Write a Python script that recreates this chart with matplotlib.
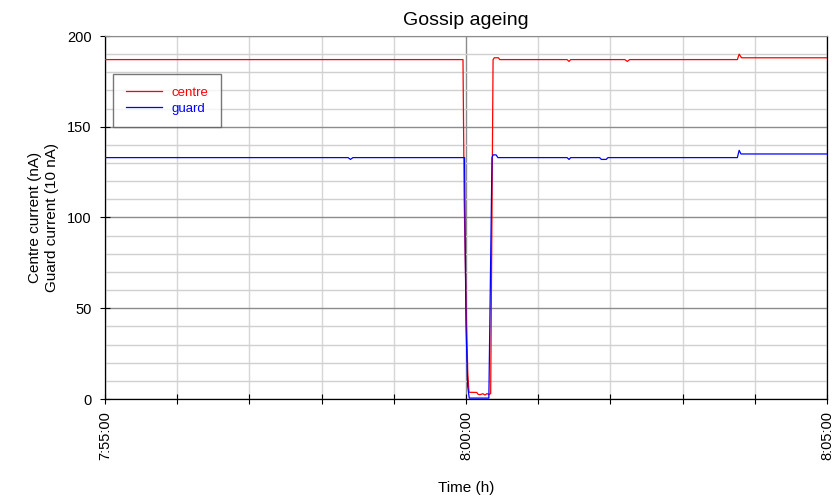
import matplotlib

matplotlib.use("Agg")

import matplotlib.pyplot as plt
from matplotlib.ticker import FixedLocator, MultipleLocator, FuncFormatter

# time in seconds after 7:55:00
centre_t = [0, 297.5, 298.5, 300, 301.5, 302.5, 309, 310, 311.6, 314, 315.8, 317.5,
            319, 320.5, 322.5, 323.5, 327, 328, 384, 385.6, 387, 432, 434, 436,
            525.5, 527, 529, 600]
centre_i = [187, 187, 110, 54, 14, 3.7, 3.6, 2.6, 2.4, 2.9, 2.2, 3.0,
            2.4, 3, 187, 188, 188, 187, 187, 186, 187, 187, 186, 187,
            187, 190, 188, 188]

guard_t = [0, 202, 204, 206, 298.8, 299.3, 300, 301.4, 302.7, 319, 321.6, 322.5,
           325, 326.5, 384, 385.6, 387, 411, 412.5, 416.5, 418, 525.5, 527, 528.5, 600]
guard_i = [133, 133, 132, 133, 133, 90, 40, 7, 0.5, 0.5, 133, 134.5,
           134.5, 133, 133, 132, 133, 133, 132, 132, 133, 133, 137, 135, 135]

x_major = [0, 300, 600]
x_labels = ["7:55:00", "8:00:00", "8:05:00"]

plt.rcParams["font.family"] = ["Liberation Sans", "DejaVu Sans"]

fig = plt.figure(figsize=(8.34, 4.98), dpi=100)
ax = fig.add_axes([105 / 834, 99 / 498, 722 / 834, 363 / 498])

ax.plot(centre_t, centre_i, color="#ff0000", linewidth=0.9, label="centre", zorder=3)
ax.plot(guard_t, guard_i, color="#0000ff", linewidth=0.9, label="guard", zorder=3)

ax.set_xlim(0, 600)
ax.set_ylim(0, 200)

ax.xaxis.set_major_locator(FixedLocator(x_major))
ax.xaxis.set_major_formatter(FuncFormatter(lambda v, p: x_labels[x_major.index(int(round(v)))]
                                           if int(round(v)) in x_major else ""))
ax.xaxis.set_minor_locator(MultipleLocator(60))
ax.yaxis.set_major_locator(MultipleLocator(50))
ax.yaxis.set_minor_locator(MultipleLocator(10))

ax.grid(which="minor", axis="x", color="#d6d6d6", linewidth=1.0)
ax.grid(which="major", axis="x", color="#8c8c8c", linewidth=1.0)
ax.grid(which="minor", axis="y", color="#d0d0d0", linewidth=1.0)
ax.grid(which="major", axis="y", color="#8c8c8c", linewidth=1.0)
ax.set_axisbelow(True)

ax.tick_params(axis="x", which="both", direction="inout", length=7, width=0.8,
               labelsize=10.5, labelrotation=90, pad=5)
ax.tick_params(axis="y", which="major", direction="inout", length=7, width=0.8,
               labelsize=10.5, pad=6)
ax.tick_params(axis="y", which="minor", length=0)

ax.spines["top"].set_color("#8c8c8c")
for side in ("left", "bottom", "right"):
    ax.spines[side].set_color("black")
    ax.spines[side].set_linewidth(0.9)

ax.set_title("Gossip ageing", fontsize=14, pad=8)
ax.set_xlabel("Time (h)", fontsize=11, labelpad=15)
ax.set_ylabel("Centre current (nA)\nGuard current (10 nA)", fontsize=11,
              labelpad=6, linespacing=1.25)

leg = ax.legend(loc="upper left", bbox_to_anchor=(113 / 834, 1 - 74 / 498),
                bbox_transform=fig.transFigure, fancybox=False, shadow=False,
                edgecolor="#555555", fontsize=9.5, handlelength=2.8, handletextpad=0.7,
                borderpad=0.95, labelspacing=0.3, borderaxespad=0)
leg.get_frame().set_linewidth(1.0)
for text, line in zip(leg.get_texts(), leg.get_lines()):
    text.set_color(line.get_color())

fig.savefig("out.png", dpi=100)
